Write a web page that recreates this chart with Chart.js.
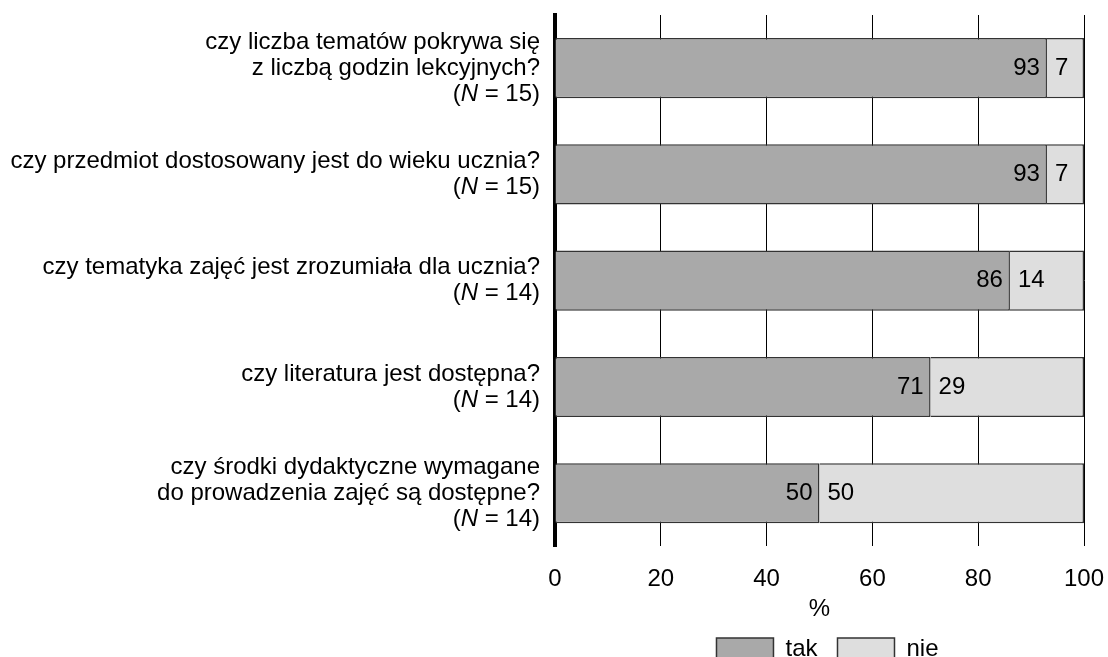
<!DOCTYPE html>
<html>
<head>
<meta charset="utf-8">
<script src="https://cdn.jsdelivr.net/npm/chart.js@4"></script>
<style>
	body { margin: 0; background: #fff; }
	canvas { display: block; }
</style>
</head>
<body>
<canvas id="chart" width="1108" height="657"></canvas>
<script>
// pytania (kategorie) - kolejne linie etykiety
const questions = [
	['czy liczba tematów pokrywa się', 'z liczbą godzin lekcyjnych?'],
	['czy przedmiot dostosowany jest do wieku ucznia?'],
	['czy tematyka zajęć jest zrozumiała dla ucznia?'],
	['czy literatura jest dostępna?'],
	['czy środki dydaktyczne wymagane', 'do prowadzenia zajęć są dostępne?']
];
const sampleN = [15, 15, 14, 14, 14];
const takValues = [93, 93, 86, 71, 50];
const nieValues = [7, 7, 14, 29, 50];
const xTicks = [0, 20, 40, 60, 80, 100];

const FONT = "'Liberation Sans', Arial, sans-serif";

// etykiety osi Y rysowane recznie (kursywa dla N)
const questionLabels = {
	id: 'questionLabels',
	afterDraw(chart) {
		const ctx = chart.ctx;
		const yScale = chart.scales.y;
		const right = chart.chartArea.left - 15;
		const lineH = 26;
		ctx.save();
		ctx.fillStyle = '#000';
		ctx.textBaseline = 'middle';
		questions.forEach(function (lines, i) {
			const cy = yScale.getPixelForValue(i);
			const total = lines.length + 1;
			let y = cy - (total - 1) * lineH / 2;
			ctx.font = '24px ' + FONT;
			ctx.textAlign = 'right';
			lines.forEach(function (line) {
				ctx.fillText(line, right, y);
				y += lineH;
			});
			// (N = 15)
			const tail = ' = ' + sampleN[i] + ')';
			ctx.font = '24px ' + FONT;
			const wTail = ctx.measureText(tail).width;
			const wOpen = ctx.measureText('(').width;
			ctx.font = 'italic 24px ' + FONT;
			const wN = ctx.measureText('N').width;
			ctx.textAlign = 'left';
			let x = right - wTail - wN - wOpen;
			ctx.font = '24px ' + FONT;
			ctx.fillText('(', x, y);
			x += wOpen;
			ctx.font = 'italic 24px ' + FONT;
			ctx.fillText('N', x, y);
			x += wN;
			ctx.font = '24px ' + FONT;
			ctx.fillText(tail, x, y);
		});
		ctx.restore();
	}
};

// wartosci na slupkach
const barValues = {
	id: 'barValues',
	afterDatasetsDraw(chart) {
		const ctx = chart.ctx;
		ctx.save();
		ctx.font = '24px ' + FONT;
		ctx.fillStyle = '#000';
		ctx.textBaseline = 'middle';
		chart.data.datasets.forEach(function (ds, di) {
			const meta = chart.getDatasetMeta(di);
			meta.data.forEach(function (bar, i) {
				const p = bar.getProps(['x', 'y', 'base'], true);
				if (di === 0) {
					ctx.textAlign = 'right';
					ctx.fillText(String(ds.data[i]), p.x - 7, p.y);
				} else {
					ctx.textAlign = 'left';
					ctx.fillText(String(ds.data[i]), p.base + 8, p.y);
				}
			});
		});
		ctx.restore();
	}
};

// legenda troche w prawo
const legendShift = {
	id: 'legendShift',
	afterLayout(chart) {
		if (chart.legend) {
			chart.legend.left += 8;
			chart.legend.right += 8;
		}
	}
};

const ctx = document.getElementById('chart').getContext('2d');
const chart = new Chart(ctx, {
	type: 'bar',
	data: {
		labels: questions.map(function (l) { return l.join(' '); }),
		datasets: [
			{
				label: 'tak',
				data: takValues,
				backgroundColor: '#a9a9a9',
				borderColor: '#333',
				borderWidth: 1.5,
				categoryPercentage: 1,
				barPercentage: 0.566
			},
			{
				label: 'nie',
				data: nieValues,
				backgroundColor: '#dedede',
				borderColor: '#333',
				borderWidth: 1.5,
				categoryPercentage: 1,
				barPercentage: 0.566
			}
		]
	},
	options: {
		responsive: false,
		animation: false,
		indexAxis: 'y',
		layout: {
			padding: { top: 15, right: 8, left: 0, bottom: -14 }
		},
		plugins: {
			tooltip: { enabled: false },
			legend: {
				position: 'bottom',
				fullSize: false,
				labels: {
					boxWidth: 57,
					boxHeight: 22,
					padding: 20,
					color: '#000',
					font: { family: FONT, size: 24 }
				}
			}
		},
		scales: {
			x: {
				stacked: true,
				min: 0,
				max: 100,
				afterBuildTicks: function (scale) {
					scale.ticks = xTicks.map(function (v) { return { value: v }; });
				},
				afterFit: function (scale) {
					scale.paddingRight = 24;
				},
				border: { display: false },
				grid: { color: '#000', lineWidth: 1, drawTicks: false },
				ticks: {
					color: '#000',
					padding: 19,
					font: { family: FONT, size: 24 }
				},
				title: {
					display: true,
					text: '%',
					color: '#000',
					padding: { top: -18, bottom: -7 },
					font: { family: FONT, size: 24 }
				}
			},
			y: {
				stacked: true,
				border: { display: true, color: '#000', width: 4 },
				grid: { display: false },
				ticks: { display: false },
				afterFit: function (scale) {
					scale.width = 555;
				}
			}
		}
	},
	plugins: [questionLabels, barValues, legendShift]
});
</script>
</body>
</html>
